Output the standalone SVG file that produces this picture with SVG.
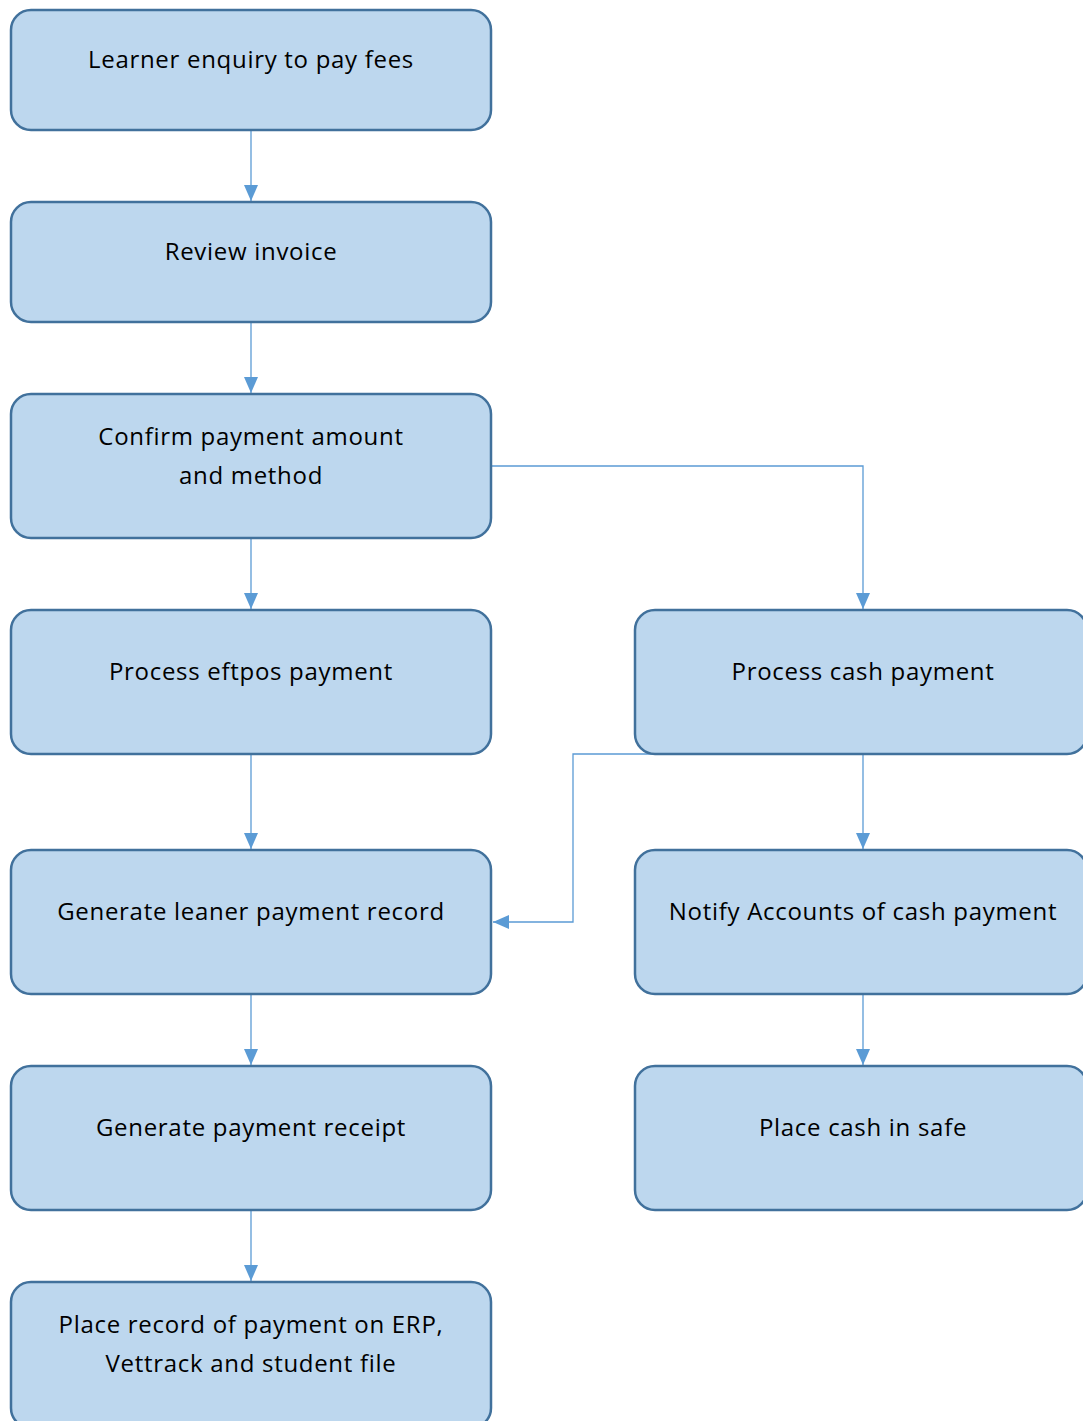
<svg xmlns="http://www.w3.org/2000/svg" width="1083" height="1421" viewBox="0 0 1083 1421">
  <defs>
    <style>
      .box { fill: #BDD7EE; stroke: #41719C; stroke-width: 2.5; }
      .lbl { font-family: "Open Sans", "Liberation Sans", Arial, sans-serif; font-size: 24px; letter-spacing: 0.7px; fill: #000; text-anchor: middle; }
      .con { fill: none; stroke: #5B9BD5; stroke-width: 1.3; }
    </style>
    <marker id="arrow" viewBox="0 0 16 14" refX="16" refY="7" markerWidth="16" markerHeight="14" markerUnits="userSpaceOnUse" orient="auto">
      <path d="M0,0 L16,7 L0,14 Z" fill="#5B9BD5"/>
    </marker>
  </defs>

  <rect width="1083" height="1421" fill="#FFFFFF"/>

  <!-- connectors -->
  <g id="connectors">
    <path class="con" d="M251,131 V201" marker-end="url(#arrow)"/>
    <path class="con" d="M251,323 V393" marker-end="url(#arrow)"/>
    <path class="con" d="M251,539 V609" marker-end="url(#arrow)"/>
    <path class="con" d="M492,466 H863 V609" marker-end="url(#arrow)"/>
    <path class="con" d="M251,755 V849" marker-end="url(#arrow)"/>
    <path class="con" d="M863,754 H573 V922 H493" marker-end="url(#arrow)"/>
    <path class="con" d="M863,755 V849" marker-end="url(#arrow)"/>
    <path class="con" d="M251,995 V1065" marker-end="url(#arrow)"/>
    <path class="con" d="M863,995 V1065" marker-end="url(#arrow)"/>
    <path class="con" d="M251,1211 V1281" marker-end="url(#arrow)"/>
  </g>

  <!-- nodes -->
  <g id="n-enquiry">
    <rect class="box" x="11" y="10" width="480" height="120" rx="20"/>
    <text class="lbl" x="251" y="68">Learner enquiry to pay fees</text>
  </g>
  <g id="n-review">
    <rect class="box" x="11" y="202" width="480" height="120" rx="20"/>
    <text class="lbl" x="251" y="260">Review invoice</text>
  </g>
  <g id="n-confirm">
    <rect class="box" x="11" y="394" width="480" height="144" rx="20"/>
    <text class="lbl" x="251" y="445">Confirm payment amount</text>
    <text class="lbl" x="251" y="484">and method</text>
  </g>
  <g id="n-eftpos">
    <rect class="box" x="11" y="610" width="480" height="144" rx="20"/>
    <text class="lbl" x="251" y="680">Process eftpos payment</text>
  </g>
  <g id="n-cash">
    <rect class="box" x="635" y="610" width="452" height="144" rx="20"/>
    <text class="lbl" x="863" y="680">Process cash payment</text>
  </g>
  <g id="n-record">
    <rect class="box" x="11" y="850" width="480" height="144" rx="20"/>
    <text class="lbl" x="251" y="920">Generate leaner payment record</text>
  </g>
  <g id="n-notify">
    <rect class="box" x="635" y="850" width="452" height="144" rx="20"/>
    <text class="lbl" x="863" y="920">Notify Accounts of cash payment</text>
  </g>
  <g id="n-receipt">
    <rect class="box" x="11" y="1066" width="480" height="144" rx="20"/>
    <text class="lbl" x="251" y="1136">Generate payment receipt</text>
  </g>
  <g id="n-safe">
    <rect class="box" x="635" y="1066" width="452" height="144" rx="20"/>
    <text class="lbl" x="863" y="1136">Place cash in safe</text>
  </g>
  <g id="n-erp">
    <rect class="box" x="11" y="1282" width="480" height="146" rx="20"/>
    <text class="lbl" x="251" y="1333">Place record of payment on ERP,</text>
    <text class="lbl" x="251" y="1372">Vettrack and student file</text>
  </g>
</svg>
